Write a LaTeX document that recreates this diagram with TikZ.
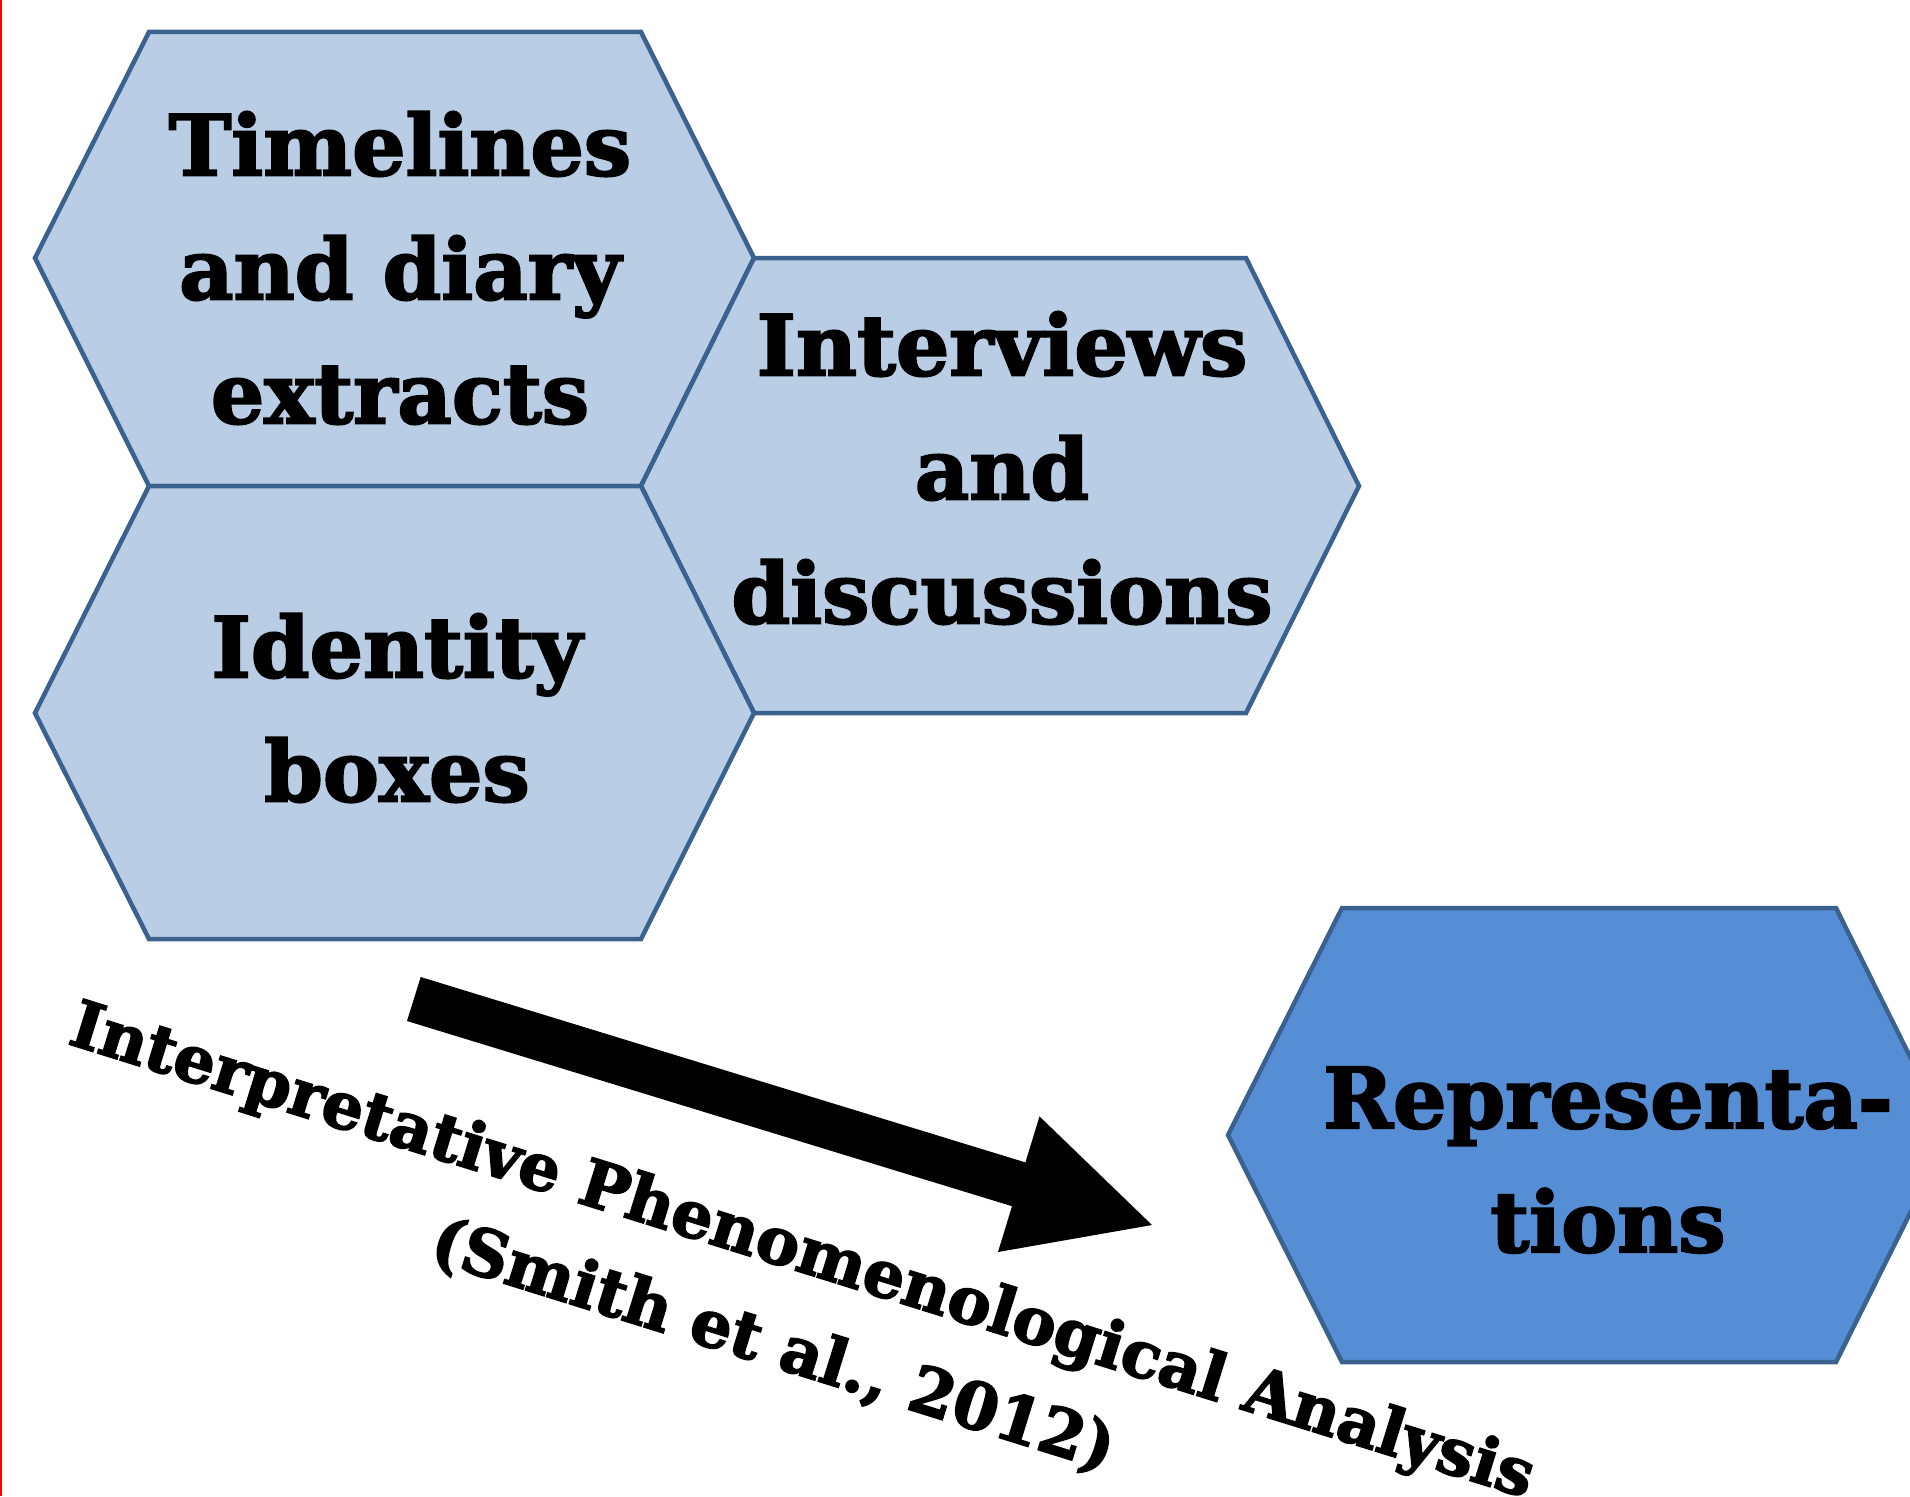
\documentclass[tikz,border=0pt]{standalone}
\usepackage{fontspec}
\setmainfont{DejaVu Serif}[BoldFeatures={FakeBold=2.5}]
\definecolor{hexfill}{HTML}{B9CDE5}
\definecolor{hexdark}{HTML}{558ED5}
\definecolor{hexline}{HTML}{3B618F}
\begin{document}
\begin{tikzpicture}[x=1pt,y=-1pt,
  hexbox/.style={draw=hexline, line width=4.5pt, line join=miter, fill=hexfill},
  hextext/.style={font=\fontsize{84}{124}\selectfont\bfseries, align=center, inner sep=0pt, text=black},
  ipatext/.style={font=\fontsize{65}{99}\selectfont\bfseries, align=center, inner sep=0pt, rotate=-17.3}]
\useasboundingbox (0,0) rectangle (1910,1496);
\fill[white] (0,0) rectangle (1910,1496);
\draw[red, line width=2pt] (1,0) -- (1,1496);
\begin{scope}
\clip (0,0) rectangle (1910,1496);
\draw[hexbox] (35,258) -- (149,32) -- (641,32) -- (754,258) -- (641,486) -- (149,486) -- cycle;
\draw[hexbox] (641,486) -- (754,258) -- (1246,258) -- (1359,486) -- (1246,713) -- (754,713) -- cycle;
\draw[hexbox] (35,713) -- (149,486) -- (641,486) -- (754,713) -- (641,939) -- (149,939) -- cycle;
\draw[hexbox, fill=hexdark] (1228,1135) -- (1342,908) -- (1836,908) -- (1949,1135) -- (1836,1362) -- (1342,1362) -- cycle;
\end{scope}
\node[hextext] (timelines) at (400,268) {Timelines\\and diary\\extracts};
\node[hextext] (interviews) at (1002,468) {Interviews\\and\\discussions};
\node[hextext] (identity) at (397,708) {Identity\\boxes};
\node[hextext] (repr) at (1608,1160) {Representa-\\tions};
\fill[black] (420.7,977) -- (1025.4,1162.4) -- (1039.5,1116.4) -- (1152,1225) -- (998,1252) -- (1012,1206.2) -- (407,1021) -- cycle;
\node[ipatext] (ipa) at (787.5,1299.5) {Interpretative Phenomenological Analysis\\(Smith et al., 2012)};
\end{tikzpicture}
\end{document}
